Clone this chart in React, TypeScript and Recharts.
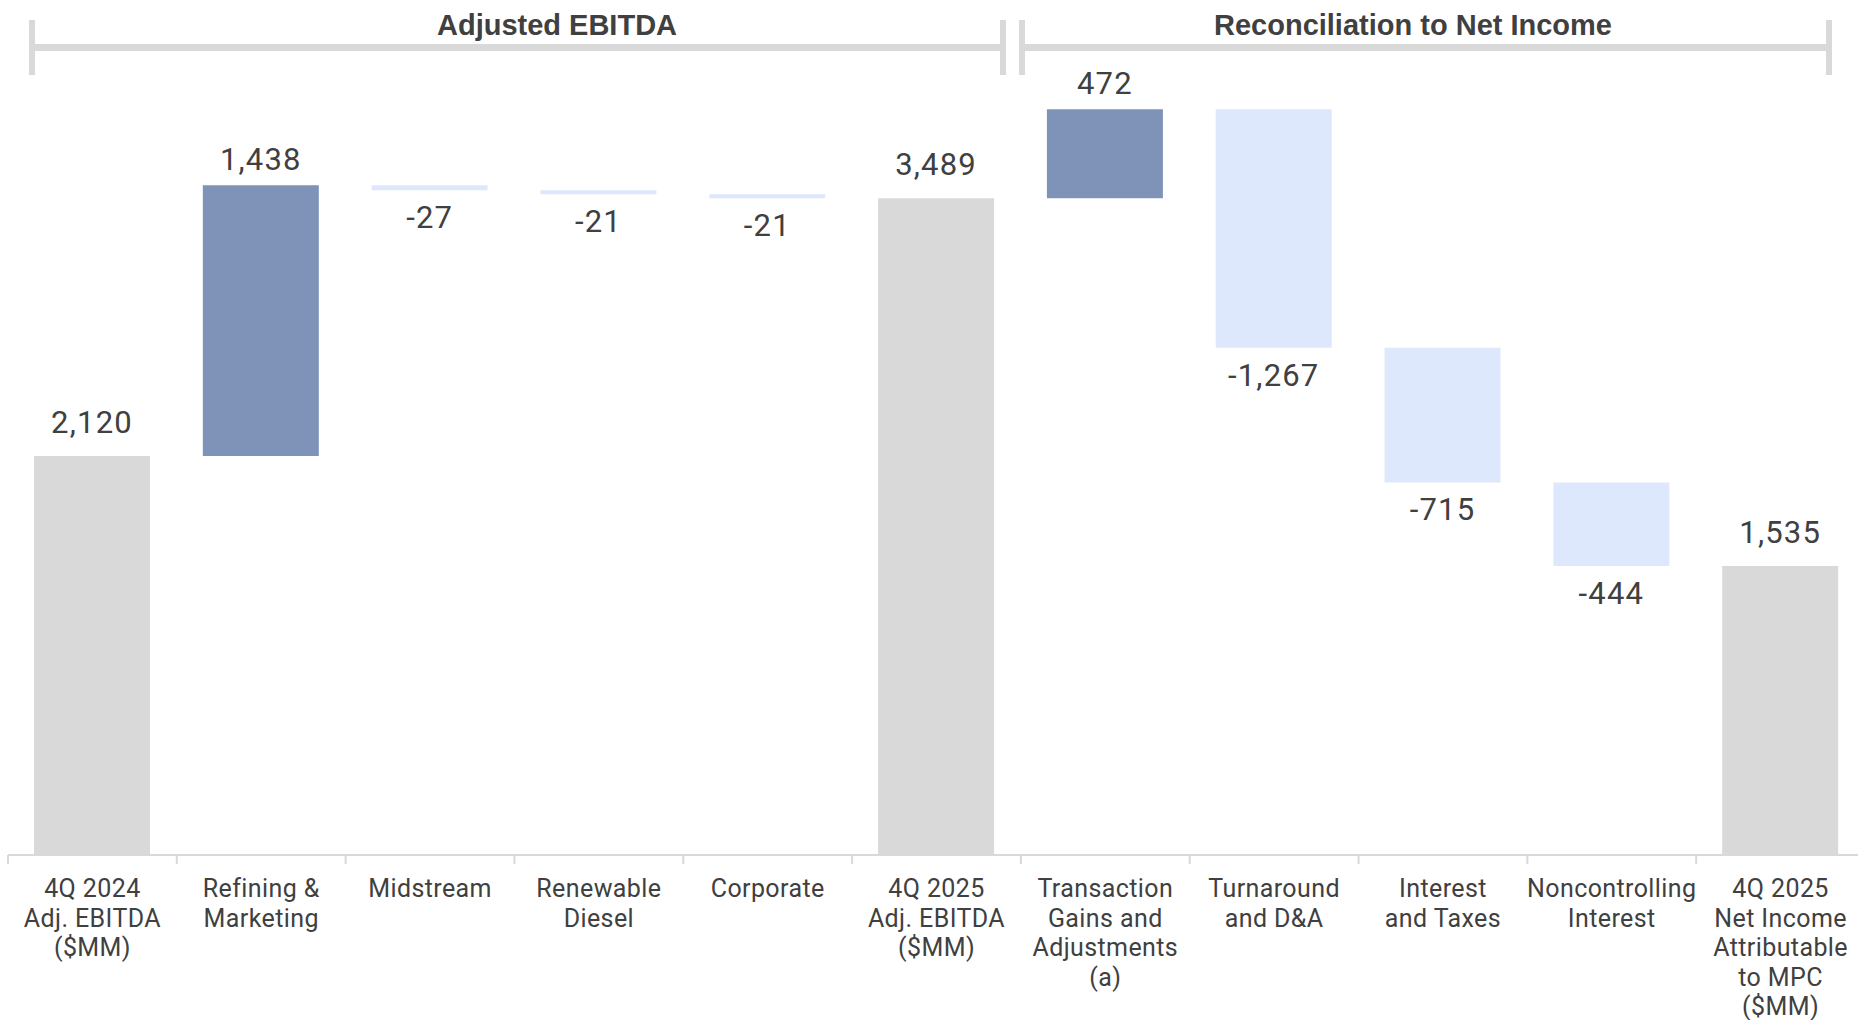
import { ComposedChart, Bar, XAxis, YAxis, Cell, LabelList } from "recharts";

// categories (split into the lines shown under the axis)
const categoryLines: string[][] = [
  ["4Q 2024", "Adj. EBITDA", "($MM)"],
  ["Refining &", "Marketing"],
  ["Midstream"],
  ["Renewable", "Diesel"],
  ["Corporate"],
  ["4Q 2025", "Adj. EBITDA", "($MM)"],
  ["Transaction", "Gains and", "Adjustments", "(a)"],
  ["Turnaround", "and D&A"],
  ["Interest", "and Taxes"],
  ["Noncontrolling", "Interest"],
  ["4Q 2025", "Net Income", "Attributable", "to MPC", "($MM)"],
];

const values = [2120, 1438, -27, -21, -21, 3489, 472, -1267, -715, -444, 1535];
const isTotal = [true, false, false, false, false, true, false, false, false, false, true];

const yTicks = [0, 1000, 2000, 3000, 4000];

const GRAY = "#d9d9d9";
const UP = "#7f93b8";
const DOWN = "#dee8fc";
const TEXT = "#404040";

const CHART_W = 1866;
const CHART_H = 1020;
const BAND = 1857 / values.length;

// running totals -> [low, high] for each waterfall bar
let running = 0;
const data = values.map((v, i) => {
  let low: number, high: number;
  if (isTotal[i]) {
    low = 0;
    high = v;
    running = v;
  } else {
    const next = running + v;
    low = Math.min(running, next);
    high = Math.max(running, next);
    running = next;
  }
  return { key: String(i), range: [low, high], value: v, total: isTotal[i] };
});

const fmt = (v: number) => (v < 0 ? "-" : "") + Math.abs(v).toLocaleString("en-US");

// eslint-disable-next-line @typescript-eslint/no-explicit-any
const ValueLabel = (props: any) => {
  const { x, y, width, height, index } = props;
  const v = values[index];
  const cx = x + width / 2;
  const top = Math.min(y, y + height);
  const bottom = Math.max(y, y + height);
  const ty = v < 0 ? bottom + 38 : top - (isTotal[index] ? 23 : 15);
  return (
    <text
      x={cx}
      y={ty}
      textAnchor="middle"
      fill={TEXT}
      fontSize={31}
      letterSpacing={1.2}
      fontFamily="Roboto, sans-serif"
    >
      {fmt(v)}
    </text>
  );
};

// eslint-disable-next-line @typescript-eslint/no-explicit-any
const CategoryTick = (props: any) => {
  const { x, y, payload } = props;
  const lines = categoryLines[Number(payload.value)] ?? [];
  return (
    <g>
      <line x1={x - BAND / 2} x2={x - BAND / 2} y1={y} y2={y + 9} stroke={GRAY} strokeWidth={2} />
      <text
        x={x}
        y={y + 42}
        textAnchor="middle"
        fill={TEXT}
        fontSize={25}
        letterSpacing={0.4}
        fontFamily="Roboto, sans-serif"
      >
        {lines.map((l, i) => (
          <tspan key={i} x={x} dy={i === 0 ? 0 : 29.6}>
            {l}
          </tspan>
        ))}
      </text>
    </g>
  );
};

const Bracket = ({ x1, x2, cx, label }: { x1: number; x2: number; cx: number; label: string }) => (
  <g>
    <line x1={x1} x2={x2} y1={47.5} y2={47.5} stroke={GRAY} strokeWidth={7} />
    <line x1={x1} x2={x1} y1={20} y2={75} stroke={GRAY} strokeWidth={6} />
    <line x1={x2} x2={x2} y1={20} y2={75} stroke={GRAY} strokeWidth={6} />
    <text
      x={cx}
      y={35}
      textAnchor="middle"
      fill={TEXT}
      fontSize={29}
      fontWeight={700}
      fontFamily="'Liberation Sans', Arial, sans-serif"
    >
      {label}
    </text>
  </g>
);

export default function App() {
  return (
    <div
      style={{
        position: "absolute",
        left: 0,
        top: 0,
        width: 1858,
        height: 1020,
        overflow: "hidden",
        background: "#ffffff",
      }}
    >
      <ComposedChart
        width={CHART_W}
        height={CHART_H}
        data={data}
        margin={{ top: 102, right: 1, bottom: 15, left: 8 }}
      >
        <XAxis
          dataKey="key"
          axisLine={{ stroke: GRAY, strokeWidth: 2 }}
          tickLine={false}
          tickSize={0}
          tickMargin={0}
          interval={0}
          height={150}
          tick={CategoryTick}
        />
        <YAxis hide domain={[0, 4000]} ticks={yTicks} />
        <Bar dataKey="range" barSize={116} isAnimationActive={false}>
          {data.map((d, i) => (
            <Cell key={i} fill={d.total ? GRAY : d.value >= 0 ? UP : DOWN} />
          ))}
          <LabelList dataKey="value" content={ValueLabel} />
        </Bar>
      </ComposedChart>
      <svg
        width={1858}
        height={1020}
        style={{ position: "absolute", left: 0, top: 0, pointerEvents: "none" }}
      >
        <Bracket x1={32} x2={1003} cx={557} label="Adjusted EBITDA" />
        <Bracket x1={1022} x2={1829} cx={1413} label="Reconciliation to Net Income" />
      </svg>
    </div>
  );
}
